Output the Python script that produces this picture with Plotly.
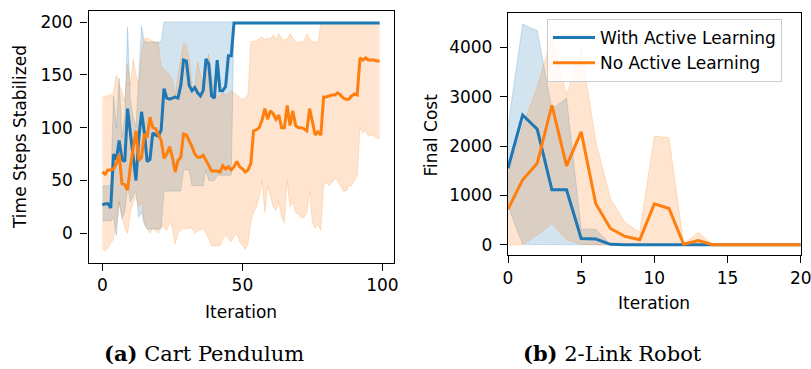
import plotly.graph_objects as go

W, H = 811, 369

# ---------------- (a) Cart Pendulum ----------------
iters_a = list(range(100))
al_mean_a = [27, 28, 28, 24, 75, 70, 88, 70, 68, 118, 95, 72, 50, 90, 115, 95, 68, 70, 95, 93,
             92, 98, 137, 128, 127, 128, 129, 128, 140, 164, 163, 140, 135, 138, 133, 130, 135, 165, 160, 130,
             128, 164, 135, 135, 139, 168, 168] + [199] * 53
al_upper_a = [45, 45, 45, 45, 130, 100, 147, 90, 110, 195, 126, 110, 100, 150, 196, 181, 181, 181, 181, 181,
              181, 181] + [200] * 25 + [199] * 53
al_lower_a = [12, 12, 12, 12, 15, -2, 30, 14, 20, 45, 30, 35, 40, 15, 20, 8, 4, 4, 4, 4,
              4, 4, 40, 40, 40, 40, 40, 40, 40, 60, 60, 60, 45, 45, 45, 45, 45, 60, 50, 50,
              50, 55, 55, 55, 55, 55, 55] + [199] * 53

no_mean_a = [58, 56, 60, 60, 61, 66, 75, 47, 46, 41, 63, 79, 97, 69, 72, 94, 91, 110, 100, 99,
             94, 88, 71, 75, 82, 72, 58, 69, 72, 94, 93, 88, 82, 75, 72, 72, 74, 69, 64, 59,
             59, 59, 58, 64, 61, 63, 60, 63, 68, 63, 61, 58, 60, 66, 97, 98, 100, 107, 118, 108,
             116, 113, 108, 112, 100, 100, 121, 102, 116, 102, 100, 100, 99, 97, 118, 104, 93, 96, 93, 129,
             129, 130, 131, 131, 133, 131, 128, 127, 127, 130, 132, 131, 166, 164, 166, 164, 164, 164, 163, 163]
no_upper_a = [128, 130, 130, 131, 133, 150, 140, 135, 125, 160, 140, 165, 150, 140, 170, 184, 185, 183, 182, 181,
              180, 158, 155, 153, 150, 145, 130, 150, 165, 180, 178, 165, 140, 138, 162, 150, 140, 155, 170, 150,
              135, 130, 130, 133, 131, 132, 135, 133, 131, 128, 127, 128, 132, 181, 182, 182, 184, 186, 183, 185,
              184, 188, 183, 189, 184, 183, 184, 189, 185, 181, 181, 181, 182, 189, 184, 181, 181, 181, 199, 199,
              199, 199, 199, 199, 199, 199, 199, 199, 199, 199, 199, 199, 199, 199, 199, 199, 199, 199, 199, 199]
no_lower_a = [-14, -17, -14, -10, -5, 10, 30, 15, 5, 0, 20, 30, 35, 25, 30, 10, 5, 0, 5, 3,
              0, 8, 5, 3, 10, 5, -10, 0, 3, 5, 4, 5, 5, 0, 2, 3, 5, 0, -5, -12,
              -12, -12, -12, -5, -2, -5, -8, -3, 0, -8, -12, -15, -10, 10, 20, 25, 35, 50, 20, 45,
              35, 25, 22, 30, 15, 10, 50, 25, 30, 20, 18, 15, 15, 20, 40, 10, 5, 8, 3, 45,
              48, 45, 48, 52, 50, 45, 40, 40, 45, 45, 50, 55, 100, 95, 97, 92, 93, 92, 90, 90]

# ---------------- (b) 2-Link Robot ----------------
iters_b = list(range(21))
al_mean_b = [1550, 2630, 2340, 1115, 1115, 128, 115, 10] + [0] * 13
al_upper_b = [2400, 4470, 4340, 2750, 2970, 317, 317, 5] + [0] * 13
al_lower_b = [780, 10, 5, 0, 0, 0, 0, 0] + [0] * 13
no_mean_b = [722, 1316, 1653, 2827, 1599, 2287, 830, 331, 169, 101, 830, 735, 10, 88] + [0] * 7
no_upper_b = [1400, 2400, 3200, 4217, 3036, 3980, 2100, 940, 450, 260, 2200, 2170, 20, 250] + [0] * 7
no_lower_b = [0, 0, 200, 425, 100, 10, 0, 0, 0, 0, 0, 0, 0, 0] + [0] * 7

labels = ["With Active Learning", "No Active Learning"]
BLUE, ORANGE = "#1f77b4", "#ff7f0e"
BLUE_F, ORANGE_F = "rgba(31,119,180,0.2)", "rgba(255,127,14,0.2)"

fig = go.Figure()


def add_band(x, lo, hi, fcol, xa, ya):
    fig.add_trace(go.Scatter(x=x, y=lo, mode="lines", line=dict(color=fcol, width=1),
                             showlegend=False, hoverinfo="skip", xaxis=xa, yaxis=ya))
    fig.add_trace(go.Scatter(x=x, y=hi, mode="lines", line=dict(color=fcol, width=1),
                             fill="tonexty", fillcolor=fcol, showlegend=False, hoverinfo="skip",
                             xaxis=xa, yaxis=ya))


add_band(iters_a, al_lower_a, al_upper_a, BLUE_F, "x", "y")
add_band(iters_a, no_lower_a, no_upper_a, ORANGE_F, "x", "y")
fig.add_trace(go.Scatter(x=iters_a, y=al_mean_a, mode="lines", line=dict(color=BLUE, width=3),
                         showlegend=False, xaxis="x", yaxis="y"))
fig.add_trace(go.Scatter(x=iters_a, y=no_mean_a, mode="lines", line=dict(color=ORANGE, width=3),
                         showlegend=False, xaxis="x", yaxis="y"))

add_band(iters_b, al_lower_b, al_upper_b, BLUE_F, "x2", "y2")
add_band(iters_b, no_lower_b, no_upper_b, ORANGE_F, "x2", "y2")
fig.add_trace(go.Scatter(x=iters_b, y=al_mean_b, mode="lines", line=dict(color=BLUE, width=3),
                         name=labels[0], legendgroup="a", xaxis="x2", yaxis="y2"))
fig.add_trace(go.Scatter(x=iters_b, y=no_mean_b, mode="lines", line=dict(color=ORANGE, width=3),
                         name=labels[1], legendgroup="b", xaxis="x2", yaxis="y2"))

FONT = "DejaVu Sans"
FS = 17


def px(x):
    return x / W


def py(y):
    return 1 - y / H


axis_common = dict(showline=True, mirror=True, linecolor="black", linewidth=1.3,
                   ticks="outside", ticklen=7, tickwidth=1.3, tickcolor="black",
                   showgrid=False, zeroline=False, automargin=False, ticklabeloverflow="allow",
                   tickfont=dict(family=FONT, size=FS, color="black"))

fig.update_layout(
    template="none",
    width=W, height=H,
    margin=dict(l=0, r=0, t=0, b=0, pad=0),
    paper_bgcolor="white", plot_bgcolor="white",
    font=dict(family=FONT, size=FS, color="black"),
    xaxis=dict(domain=[px(88.5), px(393.5)], range=[-4.95, 103.95], tickvals=[0, 50, 100],
               anchor="y", **axis_common),
    yaxis=dict(domain=[py(262.7), py(10.7)], range=[-27.8, 210.7], tickvals=[0, 50, 100, 150, 200],
               anchor="x", ticklabelstandoff=4, **axis_common),
    xaxis2=dict(domain=[px(508), px(800.7)], range=[0, 20], tickvals=[0, 5, 10, 15, 20],
                anchor="y2", **axis_common),
    yaxis2=dict(domain=[py(255.3), py(13.3)], range=[-213, 4690], tickvals=[0, 1000, 2000, 3000, 4000],
                anchor="x2", ticklabelstandoff=4, **axis_common),
    legend=dict(x=px(547), y=py(19), xanchor="left", yanchor="top", traceorder="normal",
                tracegroupgap=3, itemwidth=42,
                bgcolor="rgba(255,255,255,0.8)", bordercolor="#cccccc", borderwidth=1,
                font=dict(family=FONT, size=FS, color="black")),
    showlegend=True,
)

annots = [
    dict(text="Time Steps Stabilized", x=px(20), y=py(137), textangle=-90),
    dict(text="Iteration", x=px(241), y=py(312)),
    dict(text="Final Cost", x=px(431), y=py(134.5), textangle=-90),
    dict(text="Iteration", x=px(654), y=py(303)),
]
for a in annots:
    fig.add_annotation(xref="paper", yref="paper", xanchor="center", yanchor="middle",
                       showarrow=False, font=dict(family=FONT, size=FS, color="black"), **a)

SERIF = "DejaVu Serif"
for txt, cx in [("<b>(a)</b> Cart Pendulum", 204), ("<b>(b)</b> 2-Link Robot", 612)]:
    fig.add_annotation(xref="paper", yref="paper", x=px(cx), y=py(353), xanchor="center", yanchor="middle",
                       showarrow=False, text=txt, font=dict(family=SERIF, size=21, color="black"))

fig.write_html("out.html")
